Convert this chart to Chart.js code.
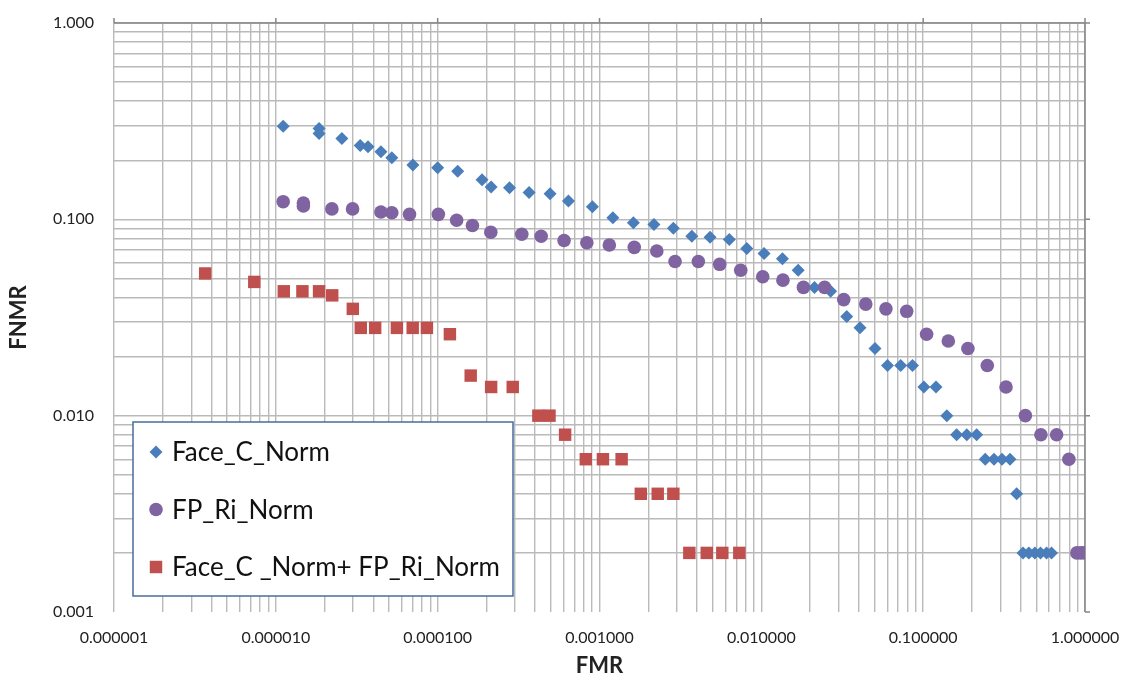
<!DOCTYPE html>
<html>
<head>
<meta charset="utf-8">
<script src="https://cdn.jsdelivr.net/npm/chart.js@4.4.0/dist/chart.umd.min.js"></script>
<style>
  html, body { margin: 0; padding: 0; background: #fff; }
</style>
</head>
<body>
<canvas id="c" width="1126" height="679"></canvas>
<script>
// values (FMR on x, FNMR on y)
var faceFmr = [0.0000111, 0.0000185, 0.0000185, 0.0000256, 0.0000332, 0.0000371, 0.0000446, 0.0000521,
  0.0000703, 0.000100, 0.000133, 0.000188, 0.000214, 0.000278, 0.000367, 0.000495, 0.000643, 0.000904,
  0.00121, 0.00162, 0.00217, 0.00286, 0.00372, 0.00482, 0.00634, 0.00813, 0.0104, 0.0135,
  0.0169, 0.0213, 0.0268, 0.0337, 0.0407, 0.0504, 0.0602, 0.0726, 0.0859,
  0.101, 0.120, 0.140, 0.161, 0.186, 0.214, 0.242, 0.274, 0.307, 0.344, 0.378,
  0.414, 0.450, 0.490, 0.531, 0.579, 0.621];
var faceFnmr = [0.298, 0.290, 0.274, 0.258, 0.238, 0.234, 0.221, 0.206,
  0.189, 0.183, 0.176, 0.159, 0.146, 0.145, 0.137, 0.135, 0.124, 0.116,
  0.102, 0.096, 0.094, 0.090, 0.082, 0.081, 0.079, 0.071, 0.067, 0.063,
  0.055, 0.045, 0.043, 0.032, 0.028, 0.022, 0.018, 0.018, 0.018,
  0.014, 0.014, 0.010, 0.008, 0.008, 0.008, 0.006, 0.006, 0.006, 0.006, 0.004,
  0.002, 0.002, 0.002, 0.002, 0.002, 0.002];

var fpFmr = [0.0000111, 0.0000148, 0.0000148, 0.0000222, 0.0000298, 0.0000446, 0.0000521, 0.0000670, 0.000101, 0.000131,
  0.000164, 0.000213, 0.000331, 0.000436, 0.000604, 0.000835, 0.00115, 0.00164, 0.00226, 0.00293,
  0.00408, 0.00553, 0.00746, 0.0102, 0.0136, 0.0182, 0.0246, 0.0323, 0.0442, 0.0589,
  0.0791, 0.105, 0.143, 0.189, 0.249, 0.325, 0.428, 0.534, 0.668, 0.795, 0.891, 0.944, 0.994];
var fpFnmr = [0.123, 0.121, 0.117, 0.113, 0.113, 0.109, 0.108, 0.106, 0.106, 0.099,
  0.093, 0.086, 0.084, 0.082, 0.078, 0.076, 0.074, 0.072, 0.069, 0.061,
  0.061, 0.059, 0.055, 0.051, 0.049, 0.045, 0.045, 0.039, 0.037, 0.035,
  0.034, 0.026, 0.024, 0.022, 0.018, 0.014, 0.010, 0.008, 0.008, 0.006, 0.002, 0.002, 0.002];

var fusedFmr = [0.00000366, 0.00000736, 0.0000112, 0.0000146, 0.0000185, 0.0000223, 0.0000299, 0.0000335,
  0.0000411, 0.0000560, 0.0000701, 0.0000858, 0.000119, 0.000160, 0.000214, 0.000291, 0.000419, 0.000491,
  0.000613, 0.000823, 0.00105, 0.00137, 0.00180, 0.00229, 0.00286, 0.00359, 0.00460, 0.00574, 0.00731];
var fusedFnmr = [0.053, 0.048, 0.043, 0.043, 0.043, 0.041, 0.035, 0.028,
  0.028, 0.028, 0.028, 0.028, 0.026, 0.016, 0.014, 0.014, 0.010, 0.010,
  0.008, 0.006, 0.006, 0.006, 0.004, 0.004, 0.004, 0.002, 0.002, 0.002, 0.002];

var seriesNames = ['Face_C_Norm', 'FP_Ri_Norm', 'Face_C _Norm+ FP_Ri_Norm'];

// decade ticks (labelled) on each axis
var xDecades = [0.000001, 0.00001, 0.0001, 0.001, 0.01, 0.1, 1];
var yDecades = [0.001, 0.01, 0.1, 1];

function pairs(xs, ys) {
  return xs.map(function(x, i) { return {x: x, y: ys[i]}; });
}

// 1..9 per decade, like excel's minor grid
function decadeTicks(decades) {
  var t = [];
  for (var i = 0; i < decades.length - 1; i++) {
    for (var k = 1; k < 10; k++) t.push({value: k * decades[i]});
  }
  t.push({value: decades[decades.length - 1]});
  return t;
}

function isDecade(v, decades) {
  for (var i = 0; i < decades.length; i++) {
    if (Math.abs(v / decades[i] - 1) < 1e-6) return true;
  }
  return false;
}

// no label overhang padding, the plot box is fixed
function noOverhang(scale) {
  scale.paddingLeft = 0;
  scale.paddingRight = 0;
  scale.paddingTop = 0;
  scale.paddingBottom = 0;
}

var gridColor = '#bababa';
var axisColor = '#868686';

// axis lines sit on top and right in the original, with outward major ticks
var axisLines = {
  id: 'axisLines',
  beforeDatasetsDraw: function(chart) {
    var ctx = chart.ctx, a = chart.chartArea;
    var xs = chart.scales.x, ys = chart.scales.y;
    ctx.save();
    ctx.strokeStyle = axisColor;
    ctx.lineWidth = 1.5;
    ctx.beginPath();
    ctx.moveTo(a.left, a.top);
    ctx.lineTo(a.right, a.top);
    ctx.lineTo(a.right, a.bottom);
    xDecades.forEach(function(d) {
      var px = xs.getPixelForValue(d);
      ctx.moveTo(px, a.top);
      ctx.lineTo(px, a.top - 5);
    });
    yDecades.forEach(function(d) {
      var py = ys.getPixelForValue(d);
      ctx.moveTo(a.right, py);
      ctx.lineTo(a.right + 5, py);
    });
    ctx.stroke();
    ctx.restore();
  }
};

// boxed legend inside the plot, lower left
var boxLegend = {
  id: 'boxLegend',
  afterDraw: function(chart) {
    var ctx = chart.ctx;
    ctx.save();
    ctx.fillStyle = '#ffffff';
    ctx.fillRect(133, 422, 380, 174);
    ctx.strokeStyle = '#4a6b9c';
    ctx.lineWidth = 1.5;
    ctx.strokeRect(133, 422, 380, 174);
    chart.data.datasets.forEach(function(ds, i) {
      var y = 452 + i * 57.5;
      ctx.fillStyle = ds.backgroundColor;
      Chart.helpers.drawPoint(ctx, {pointStyle: ds.pointStyle, radius: ds.pointRadius, rotation: 0, borderWidth: 0}, 156, y);
      ctx.fillStyle = '#111';
      ctx.font = '26px Lato';
      ctx.textBaseline = 'middle';
      ctx.fillText(ds.label, 172, y + 1);
    });
    ctx.restore();
  }
};

Chart.defaults.font.family = 'Lato';
Chart.defaults.color = '#222';

new Chart(document.getElementById('c'), {
  type: 'scatter',
  data: {
    datasets: [
      {
        label: seriesNames[0],
        data: pairs(faceFmr, faceFnmr),
        pointStyle: 'rectRot',
        pointRadius: 6.5,
        backgroundColor: '#4a7ebb',
        borderWidth: 0,
        order: 3
      },
      {
        label: seriesNames[1],
        data: pairs(fpFmr, fpFnmr),
        pointStyle: 'circle',
        pointRadius: 6.8,
        backgroundColor: '#8064a2',
        borderWidth: 0,
        order: 2
      },
      {
        label: seriesNames[2],
        data: pairs(fusedFmr, fusedFnmr),
        pointStyle: 'rect',
        pointRadius: 8.8,
        backgroundColor: '#c0504d',
        borderWidth: 0,
        order: 1
      }
    ]
  },
  options: {
    responsive: false,
    animation: false,
    layout: { padding: { top: 23, right: 41, left: 0, bottom: 0 } },
    plugins: {
      legend: { display: false },
      tooltip: { enabled: false }
    },
    scales: {
      x: {
        type: 'logarithmic',
        min: 0.000001,
        max: 1,
        afterBuildTicks: function(scale) { scale.ticks = decadeTicks(xDecades); },
        afterFit: function(scale) { scale.height = 67; noOverhang(scale); },
        grid: { color: gridColor, lineWidth: 1.4, drawTicks: false },
        border: { display: false },
        ticks: {
          autoSkip: false,
          maxRotation: 0,
          padding: 16,
          font: { size: 16 },
          callback: function(v) { return isDecade(v, xDecades) ? v.toFixed(6) : ''; }
        },
        title: {
          display: true,
          text: 'FMR',
          font: { size: 22, weight: 'bold' },
          padding: { top: 0, bottom: 0 }
        }
      },
      y: {
        type: 'logarithmic',
        min: 0.001,
        max: 1,
        afterBuildTicks: function(scale) { scale.ticks = decadeTicks(yDecades); },
        afterFit: function(scale) { scale.width = 114; noOverhang(scale); },
        grid: {
          lineWidth: 1.4,
          drawTicks: false,
          color: function(c) { return c.tick && c.tick.value <= 0.001 ? 'rgba(0,0,0,0)' : gridColor; }
        },
        border: { display: false },
        ticks: {
          autoSkip: false,
          padding: 20,
          font: { size: 16 },
          callback: function(v) { return isDecade(v, yDecades) ? v.toFixed(3) : ''; }
        },
        title: {
          display: true,
          text: 'FNMR',
          font: { size: 22, weight: 'bold' },
          padding: { top: 6, bottom: 0 }
        }
      }
    }
  },
  plugins: [axisLines, boxLegend]
});
</script>
</body>
</html>
